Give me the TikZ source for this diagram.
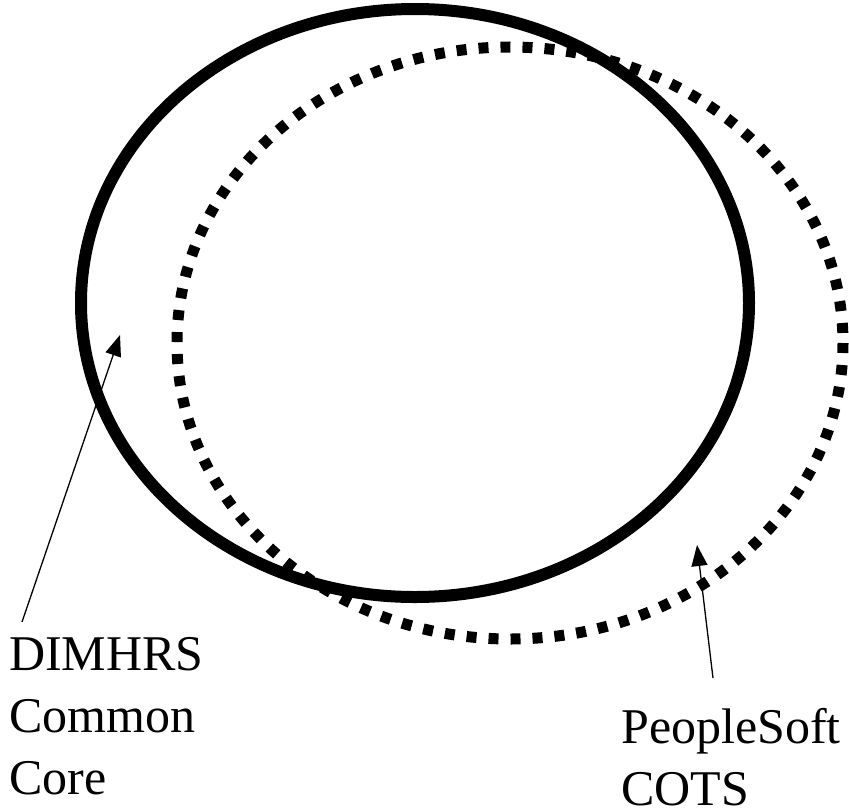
\documentclass[tikz,border=0pt]{standalone}
\usepackage{fontspec}
\setmainfont{Liberation Serif}
\usetikzlibrary{arrows.meta}
\begin{document}
\begin{tikzpicture}[x=1pt,y=-1pt,
  solidring/.style={line width=12pt},
  dotring/.style={line width=11pt,dash pattern=on 10pt off 12pt},
  pointer/.style={line width=1.3pt,-{Triangle[length=21pt,width=16pt]}},
  lbl/.style={inner sep=0pt,align=left,font=\fontsize{50}{62}\selectfont}]
\useasboundingbox (0,0) rectangle (849,807);
\draw[solidring] (415,303) ellipse [x radius=334, y radius=294];
\draw[dotring] (510,343) ellipse [x radius=333, y radius=296];
\node[lbl,anchor=north west] (dim) at (9,637) {DIMHRS\\Common\\Core};
\node[lbl,anchor=north west] (ps) at (621,708) {PeopleSoft\\COTS};
\coordinate (dimtail) at (22,622);
\coordinate (dimtip) at (120,335);
\coordinate (pstail) at (713,678);
\coordinate (pstip) at (697,545);
\draw[pointer] (dimtail) -- (dimtip);
\draw[pointer] (pstail) -- (pstip);
\end{tikzpicture}
\end{document}
